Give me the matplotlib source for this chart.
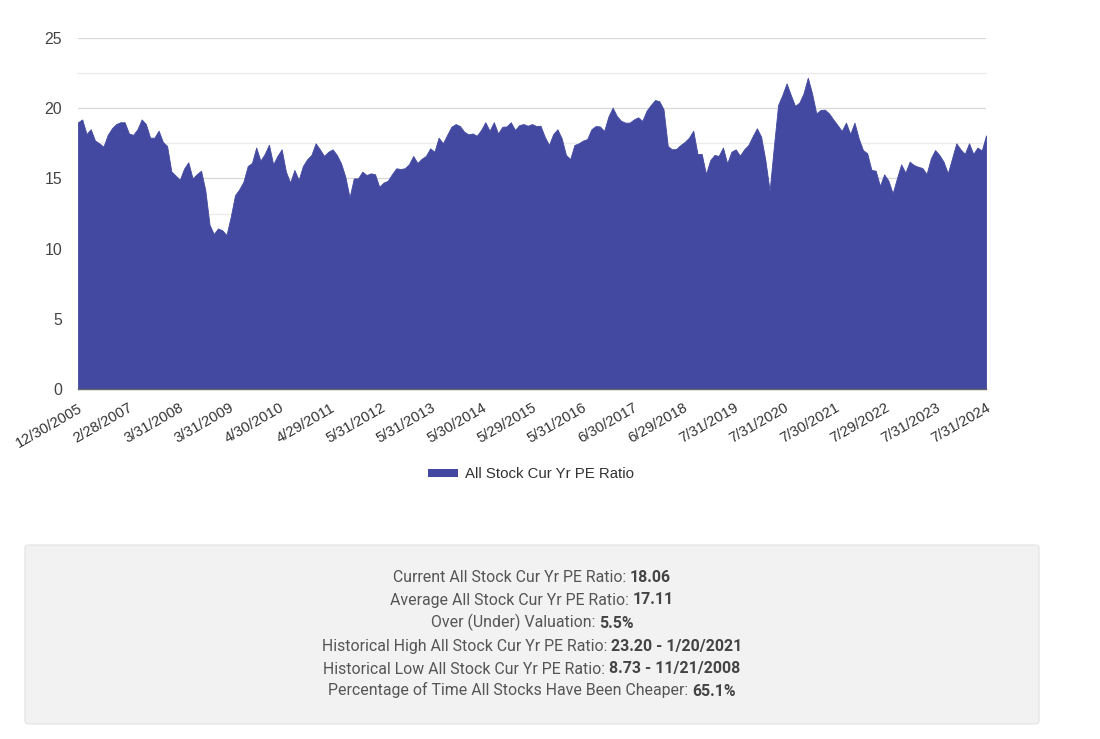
import numpy as np
import matplotlib
matplotlib.use("Agg")
import matplotlib.pyplot as plt
from matplotlib.patches import FancyBboxPatch, Patch
from matplotlib.ticker import MultipleLocator

series_name = "All Stock Cur Yr PE Ratio"

pe_values = [
    19.0, 19.2, 18.16, 18.5, 17.7, 17.5, 17.26, 18.1, 18.57, 18.87,
    19.0, 19.0, 18.2, 18.1, 18.5, 19.2, 18.87, 17.9, 17.9, 18.4,
    17.6, 17.3, 15.5, 15.2, 14.9, 15.7, 16.15, 15.0, 15.3, 15.55,
    14.17, 11.7, 11.04, 11.44, 11.3, 10.97, 12.27, 13.8, 14.22, 14.77,
    15.88, 16.1, 17.2, 16.26, 16.74, 17.4, 16.0, 16.6, 17.07, 15.48,
    14.7, 15.6, 14.9, 15.88, 16.36, 16.67, 17.5, 17.07, 16.6, 16.9,
    17.07, 16.67, 16.07, 15.12, 13.65, 15.0, 15.0, 15.48, 15.24, 15.36,
    15.3, 14.4, 14.7, 14.83, 15.3, 15.72, 15.67, 15.72, 16.0, 16.6,
    16.1, 16.4, 16.6, 17.14, 16.9, 17.9, 17.5, 18.1, 18.68, 18.87,
    18.73, 18.33, 18.14, 18.2, 18.04, 18.45, 19.0, 18.4, 19.0, 18.2,
    18.68, 18.7, 19.0, 18.45, 18.8, 18.87, 18.75, 18.87, 18.73, 18.75,
    17.97, 17.38, 18.16, 18.5, 17.85, 16.67, 16.38, 17.38, 17.5, 17.69,
    17.8, 18.5, 18.73, 18.7, 18.38, 19.4, 20.04, 19.44, 19.1, 18.97,
    18.97, 19.2, 19.35, 19.1, 19.82, 20.23, 20.58, 20.5, 19.92, 17.3,
    17.07, 17.1, 17.38, 17.6, 17.9, 18.4, 16.74, 16.74, 15.31, 16.3,
    16.67, 16.6, 17.2, 16.07, 16.9, 17.07, 16.62, 17.07, 17.38, 18.0,
    18.57, 17.97, 16.3, 14.12, 17.26, 20.23, 20.94, 21.77, 20.94, 20.16,
    20.4, 21.06, 22.17, 21.06, 19.63, 19.87, 19.9, 19.63, 19.2, 18.8,
    18.38, 18.97, 18.16, 18.97, 17.85, 17.02, 16.79, 15.6, 15.55, 14.46,
    15.29, 14.84, 13.94, 15.0, 16.0, 15.41, 16.19, 15.95, 15.83, 15.74,
    15.31, 16.43, 17.02, 16.67, 16.19, 15.36, 16.43, 17.5, 17.07, 16.74,
    17.5, 16.74, 17.2, 16.98, 18.06,
]

date_labels = [
    "12/30/2005", "2/28/2007", "3/31/2008", "3/31/2009", "4/30/2010",
    "4/29/2011", "5/31/2012", "5/31/2013", "5/30/2014", "5/29/2015",
    "5/31/2016", "6/30/2017", "6/29/2018", "7/31/2019", "7/31/2020",
    "7/30/2021", "7/29/2022", "7/31/2023", "7/31/2024",
]

y_ticks = [0, 5, 10, 15, 20, 25]

stat_labels = [
    "Current All Stock Cur Yr PE Ratio: ",
    "Average All Stock Cur Yr PE Ratio: ",
    "Over (Under) Valuation: ",
    "Historical High All Stock Cur Yr PE Ratio: ",
    "Historical Low All Stock Cur Yr PE Ratio: ",
    "Percentage of Time All Stocks Have Been Cheaper: ",
]
stat_values = ["18.06", "17.11", "5.5%", "23.20 - 1/20/2021", "8.73 - 11/21/2008", "65.1%"]

W, H = 1100, 739
fig = plt.figure(figsize=(W / 100, H / 100), dpi=100)
fig.patch.set_facecolor("white")

ax = fig.add_axes([78 / W, 1 - 389 / H, 908 / W, 351 / H])
n = len(pe_values)
x = np.arange(n)
ax.fill_between(x, pe_values, 0, color="#4349A0", lw=0.6, edgecolor="#4349A0", zorder=2)
ax.set_xlim(0, n - 1)
ax.set_ylim(0, 25)

ax.set_yticks(y_ticks)
ax.yaxis.set_minor_locator(MultipleLocator(2.5))
ax.grid(axis="y", which="major", color="#d9d9d9", lw=0.9, zorder=0)
ax.grid(axis="y", which="minor", color="#ebebeb", lw=0.9, zorder=0)
ax.set_axisbelow(True)

tick_pos = np.linspace(0, n - 1, len(date_labels))
ax.set_xticks(tick_pos)
ax.set_xticklabels(date_labels, rotation=30, ha="right", va="top",
                   rotation_mode="anchor", fontsize=10.6, color="#333333",
                   family=["Liberation Sans", "DejaVu Sans"])
for lbl in ax.get_yticklabels():
    lbl.set_fontsize(11.4)
    lbl.set_color("#444444")
    lbl.set_family(["Liberation Sans", "DejaVu Sans"])
ax.tick_params(axis="x", length=0, pad=8.5)
ax.tick_params(axis="y", which="both", length=0, pad=11.5)

for s in ("top", "right", "left"):
    ax.spines[s].set_visible(False)
ax.spines["bottom"].set_color("#666666")
ax.spines["bottom"].set_linewidth(1.0)
ax.spines["bottom"].set_zorder(3)

handle = Patch(facecolor="#4349A0", edgecolor="none", label=series_name)
leg = fig.legend(handles=[handle], loc="center",
                 bbox_to_anchor=(531 / W, 1 - 474 / H),
                 frameon=False, handlelength=2.0, handleheight=0.45,
                 handletextpad=0.45, borderpad=0,
                 prop={"family": ["Liberation Sans", "DejaVu Sans"], "size": 10.8})
for t in leg.get_texts():
    t.set_color("#333333")

box = FancyBboxPatch((25 / W, 1 - 724 / H), 1014 / W, 179 / H,
                     boxstyle="round,pad=0,rounding_size=0.004",
                     transform=fig.transFigure, facecolor="#f2f2f2",
                     edgecolor="#e2e2e2", lw=0.8)
fig.patches.append(box)

renderer = fig.canvas.get_renderer()
line_y = [577, 599, 622, 646, 668, 690]
cx = 532 / W
fs = 11.4
for lab, val, yy in zip(stat_labels, stat_values, line_y):
    yf = 1 - (yy + 5.5) / H
    t1 = fig.text(0, yf, lab.rstrip() + " ", fontsize=fs, color="#555555", family="Roboto",
                  ha="left", va="baseline")
    t2 = fig.text(0, yf, val, fontsize=fs, color="#444444", family="Roboto",
                  fontweight="bold", ha="left", va="baseline")
    w1 = t1.get_window_extent(renderer).width / W
    w2 = t2.get_window_extent(renderer).width / W
    start = cx - (w1 + w2) / 2
    t1.set_x(start)
    t2.set_x(start + w1)

fig.savefig("out.png", dpi=100)
